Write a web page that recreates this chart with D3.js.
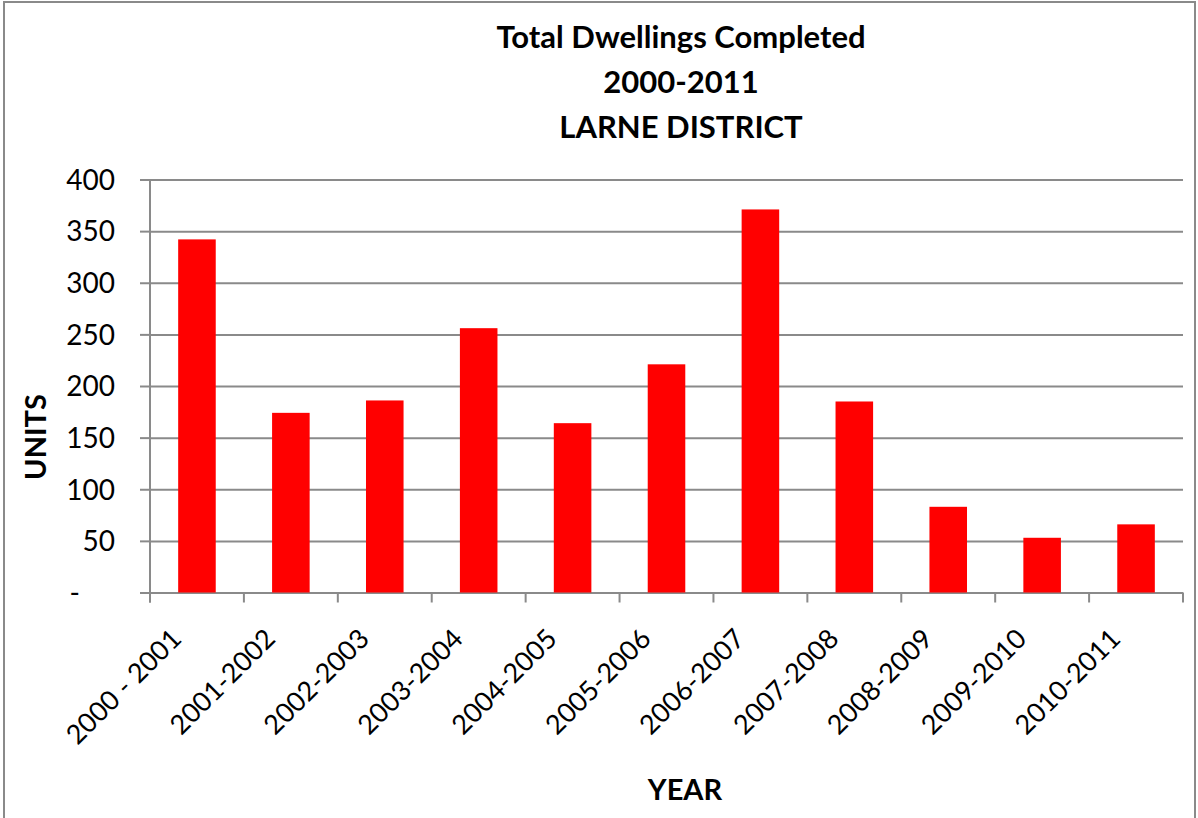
<!DOCTYPE html>
<meta charset="utf-8">
<script src="https://d3js.org/d3.v7.min.js"></script>
<style>
  body { margin: 0; background: #fff; }
  text { font-family: Lato, "Open Sans", sans-serif; fill: #000; }
</style>
<div id="chart"></div>
<script>

// data
const years = ["2000 - 2001", "2001-2002", "2002-2003", "2003-2004", "2004-2005", "2005-2006",
               "2006-2007", "2007-2008", "2008-2009", "2009-2010", "2010-2011"];
const units = [342, 174, 186, 256, 164, 221, 371, 185, 83, 53, 66];
const yTicks = [0, 50, 100, 150, 200, 250, 300, 350, 400];
const titleLines = ["Total Dwellings Completed", "2000-2011", "LARNE DISTRICT"];

const W = 1198, H = 818;
const plot = {left: 150, right: 1183, top: 179.5, bottom: 592.5};
const grey = "#8a8a8a";

const svg = d3.select("#chart").append("svg")
    .attr("width", W)
    .attr("height", H);

// outer frame
svg.append("rect")
    .attr("x", 4).attr("y", 2)
    .attr("width", 1191).attr("height", H + 10)
    .attr("fill", "none")
    .attr("stroke", grey)
    .attr("stroke-width", 2);

const x = d3.scaleBand()
    .domain(years)
    .range([plot.left, plot.right])
    .paddingInner(0.6)
    .paddingOuter(0.3);

const xb = d3.scaleBand()
    .domain(years)
    .range([plot.left, plot.right]);

const y = d3.scaleLinear()
    .domain([0, 400])
    .range([plot.bottom, plot.top]);

// gridlines + y labels
const yAxis = svg.append("g")
    .attr("transform", `translate(${plot.left},0)`)
    .call(d3.axisLeft(y)
        .tickValues(yTicks)
        .tickSize(10)
        .tickPadding(25)
        .tickFormat(d => d === 0 ? "-" : d));
yAxis.select(".domain").remove();
yAxis.selectAll(".tick line").clone()
    .attr("x1", 0).attr("x2", plot.right - plot.left);
yAxis.selectAll(".tick line")
    .attr("stroke", grey).attr("stroke-width", 2);
yAxis.selectAll(".tick text")
    .style("font-size", "28px")
    .attr("dy", "0.35em");
yAxis.selectAll(".tick").filter(d => d === 0).select("text")
    .attr("x", -70);

// vertical axis line
svg.append("line")
    .attr("x1", plot.left).attr("x2", plot.left)
    .attr("y1", plot.top).attr("y2", plot.bottom + 10)
    .attr("stroke", grey).attr("stroke-width", 2);

// x tick marks at band boundaries
const bounds = years.map(d => xb(d)).concat([plot.right]);
svg.append("g").selectAll("line")
    .data(bounds)
    .join("line")
    .attr("x1", d => d).attr("x2", d => d)
    .attr("y1", plot.bottom).attr("y2", plot.bottom + 10)
    .attr("stroke", grey).attr("stroke-width", 2);

// bars
svg.append("g").selectAll("rect")
    .data(units)
    .join("rect")
    .attr("x", (d, i) => x(years[i]))
    .attr("width", x.bandwidth())
    .attr("y", d => y(d))
    .attr("height", d => y(0) - y(d))
    .attr("fill", "#ff0000");

// x labels
svg.append("g").selectAll("text")
    .data(years)
    .join("text")
    .attr("transform", d => `translate(${xb(d) + xb.bandwidth() / 2 - 14},${plot.bottom + 48}) rotate(-45)`)
    .attr("text-anchor", "end")
    .style("font-size", "27px")
    .text(d => d);

// title
svg.append("g").selectAll("text")
    .data(titleLines)
    .join("text")
    .attr("x", 681)
    .attr("y", (d, i) => 48 + i * 45)
    .attr("text-anchor", "middle")
    .style("font-size", "31px")
    .style("font-weight", "bold")
    .text(d => d);

// axis titles
svg.append("text")
    .attr("transform", "translate(46,437) rotate(-90)")
    .attr("text-anchor", "middle")
    .style("font-size", "29px")
    .style("font-weight", "bold")
    .text("UNITS");

svg.append("text")
    .attr("x", 685).attr("y", 800)
    .attr("text-anchor", "middle")
    .style("font-size", "29px")
    .style("font-weight", "bold")
    .text("YEAR");
</script>
